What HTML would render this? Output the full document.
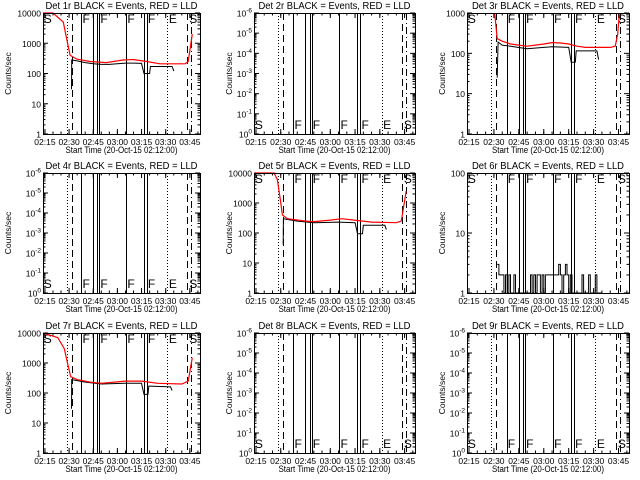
<!DOCTYPE html>
<html><head><meta charset="utf-8"><style>
html,body{margin:0;padding:0;background:#fff;}
svg{display:block;font-family:"Liberation Sans",sans-serif;}
</style></head><body>
<svg id="chart" width="640" height="480" viewBox="0 0 640 480"></svg>
<script>
const NS="http://www.w3.org/2000/svg";
const svg=document.getElementById('chart');
const xMin=133.8, xMax=231.3;
const xTickMinutes=[135,150,165,180,195,210,225];
const xTickLabels=["02:15","02:30","02:45","03:00","03:15","03:30","03:45"];
const dottedLines=[148.5,211.1];
const dashedLines=[151.5,223.3];
const dashdotLines=[225.9];
const solidLines=[157.6,164.9,167.5,168.7,185.5,196.4,198.2];
const markLetters=["S","F","F","F","F","E","S"];
const markTimes=[134.3,158.3,169.4,186.2,198.9,212.0,224.6];
// panel 1
const red1T=[133.8,140,146.4,147.9,150.6,154.7,163,173.1,183.5,189.7,198.2,206.4,222,224,226.5];
const red1V=[10000,10000,5000,2000,400,300,250,230,280,290,250,210,210,250,2000];
const blk1T=[151.5,151.6,155,160,165,170,175,180,185,190,195,196.5,200,200.5,205,210,214,215];
const blk1V=[30,280,260,230,210,200,200,210,220,220,215,100,100,170,170,170,170,120];
// panel 3
const red3T=[150.5,152,155,160,165,170,175,180,185,190,195,200,205,220,223,224.5,225.5];
const red3V=[1000,230,200,170,160,150,160,170,185,180,170,150,140,140,150,300,1000];
const blk3T=[152,152.5,155,160,170,180,185,195,196.5,199,199.5,212,213];
const blk3V=[25,190,160,150,130,140,145,140,60,60,115,115,70];
// panel 5
const red5T=[133.8,146,148,150,151,154,165,170,180,187,197,205,220,223,226];
const red5V=[10000,10000,6000,1000,400,300,250,240,270,300,260,230,220,250,2500];
const blk5T=[151.5,151.6,160,170,185,195,196.5,199.5,200,213,214];
const blk5V=[40,300,250,220,230,220,95,95,180,180,130];
// panel 7
const red7T=[133.8,143,147,149,151,155,163,170,185,195,205,220,224,226.5];
const red7V=[10000,7000,3000,1000,350,280,230,210,250,250,210,200,250,1500];
const blk7T=[151.5,151.6,160,170,185,195,196.5,199,199.5,200,213,214];
const blk7V=[30,280,230,200,210,210,90,90,170,170,160,120];
// panel 6 (step)
const blk6T0=152;
const blk6V=[3,2,2,2,1,2,1,2,1,1,2,1,1,1,1,1,1,1,1,1,2,1,2,1,2,2,1,2,1,2,2,2,2,2,2,2,2,3,2,1,2,3,2,1,2,1,1,1,1,1,1,2,1,1,1,2,1,1,1,2,1,1,1];

const colL=[43,254,467], colR=[200,415,629];
const rowT=[13,173,333], rowB=[134,293,453];

function mk(tag,attrs,parent){const e=document.createElementNS(NS,tag);for(const k in attrs)e.setAttribute(k,attrs[k]);(parent||svg).appendChild(e);return e;}

const panels=[
 {n:1,c:0,r:0,lo:0,hi:4,lab:"num",top:true,red:[red1T,red1V],blk:[blk1T,blk1V]},
 {n:2,c:1,r:0,lo:0,hi:6,lab:"neg",top:false},
 {n:3,c:2,r:0,lo:0,hi:3,lab:"num",top:true,red:[red3T,red3V],blk:[blk3T,blk3V]},
 {n:4,c:0,r:1,lo:0,hi:6,lab:"neg",top:false},
 {n:5,c:1,r:1,lo:0,hi:4,lab:"num",top:true,red:[red5T,red5V],blk:[blk5T,blk5V]},
 {n:6,c:2,r:1,lo:0,hi:2,lab:"num",top:true,step:true},
 {n:7,c:0,r:2,lo:0,hi:4,lab:"num",top:true,red:[red7T,red7V],blk:[blk7T,blk7V]},
 {n:8,c:1,r:2,lo:0,hi:6,lab:"neg",top:false},
 {n:9,c:2,r:2,lo:0,hi:6,lab:"neg",top:false}
];

panels.forEach(p=>{
 const L=colL[p.c],R=colR[p.c],T=rowT[p.r],B=rowB[p.r];
 const g=mk('g',{});
 
 
 const xs=t=>L+(t-xMin)/(xMax-xMin)*(R-L);
 const ys=v=>B-(Math.log10(v)-p.lo)/(p.hi-p.lo)*(B-T);
 const yd=d=>B-(d-p.lo)/(p.hi-p.lo)*(B-T);
 const tt=mk('text',{x:(L+R)/2,y:T-4,'text-anchor':'middle','font-size':10,fill:'#000',textLength:152,lengthAdjust:'spacingAndGlyphs'},g);
 tt.textContent='Det '+p.n+'r BLACK = Events, RED = LLD';
 
 
 const yt=mk('text',{x:0,y:0,'text-anchor':'middle','font-size':8.5,transform:`translate(${L-(p.c==0?32:22)},${(T+B)/2}) rotate(-90)`},g);
 yt.textContent='Counts/sec';
 
 
 const xt=mk('text',{x:(L+R)/2,y:B+19,'text-anchor':'middle','font-size':9.5,textLength:112,lengthAdjust:'spacingAndGlyphs'},g);
 xt.textContent='Start Time (20-Oct-15 02:12:00)';
 
 
 xTickMinutes.forEach((m,i)=>{
  const x=xs(m);
  mk('line',{x1:x,x2:x,y1:B,y2:B-5,stroke:'#000'},g);
  mk('line',{x1:x,x2:x,y1:T,y2:T+5,stroke:'#000'},g);
  const lb=mk('text',{x:x,y:B+11,'text-anchor':'middle','font-size':8.5},g);
  lb.textContent=xTickLabels[i];
  
  
 });
 for(let m=135;m<xMax;m+=5){const x=xs(m);mk('line',{x1:x,x2:x,y1:B,y2:B-2.5,stroke:'#000'},g);mk('line',{x1:x,x2:x,y1:T,y2:T+2.5,stroke:'#000'},g);}
 for(let d=p.lo;d<=p.hi;d++){
  const y=yd(d);
  mk('line',{x1:L,x2:L+5,y1:y,y2:y,stroke:'#000'},g);
  mk('line',{x1:R,x2:R-5,y1:y,y2:y,stroke:'#000'},g);
  const lb=mk('text',{x:L-2,y:y+3.5,'text-anchor':'end','font-size':8.5},g);
  
  
  if(p.lab==='num'){lb.textContent=String(Math.pow(10,d));}
  else{lb.textContent='10';const s=mk('tspan',{dy:-4,'font-size':6.5},lb);s.textContent=(d===p.lo?'0':'-'+(d));}
  if(d<p.hi){for(let k=2;k<10;k++){const yy=B-(d+Math.log10(k)-p.lo)/(p.hi-p.lo)*(B-T);mk('line',{x1:L,x2:L+2.5,y1:yy,y2:yy,stroke:'#000'},g);mk('line',{x1:R,x2:R-2.5,y1:yy,y2:yy,stroke:'#000'},g);}}
 }
 const vl=(arr,dash,name)=>arr.forEach(t=>{const x=Math.round(xs(t))+0.5;const l=mk('line',{x1:x,x2:x,y1:T,y2:B,stroke:'#000','stroke-width':1,'stroke-dasharray':dash},g);});
 vl(solidLines,'none','flag-line');
 vl(dottedLines,'1,2','dotted-marker');
 vl(dashedLines,'7,4','dashed-marker');
 vl(dashdotLines,'7,3,1,3','dashdot-marker');
 markLetters.forEach((ch,i)=>{
  const t=mk('text',{x:xs(markTimes[i]),y:p.top?T+10:B-5,'font-size':12,fill:'#000'},g);
  t.textContent=ch;
  
  
 });
 const poly=(T_,V_,col,name)=>{const pts=T_.map((t,i)=>xs(t).toFixed(1)+','+ys(V_[i]).toFixed(1)).join(' ');const pl=mk('polyline',{points:pts,fill:'none',stroke:col,'stroke-width':col==='#f00'?1.2:1},g);};
 if(p.blk)poly(p.blk[0],p.blk[1],'#000','events-line');
 if(p.red)poly(p.red[0],p.red[1],'#f00','lld-line');
 if(p.step){let pts=[];blk6V.forEach((v,i)=>{const t=blk6T0+i;pts.push(xs(t).toFixed(1)+','+ys(v).toFixed(1));pts.push(xs(t+1).toFixed(1)+','+ys(v).toFixed(1));});const pl=mk('polyline',{points:pts.join(' '),fill:'none',stroke:'#000'},g);}
 const fr=mk('rect',{x:L+0.5,y:T+0.5,width:R-L,height:B-T,fill:'none',stroke:'#000'},g);
 
 
});
</script>
</body></html>
